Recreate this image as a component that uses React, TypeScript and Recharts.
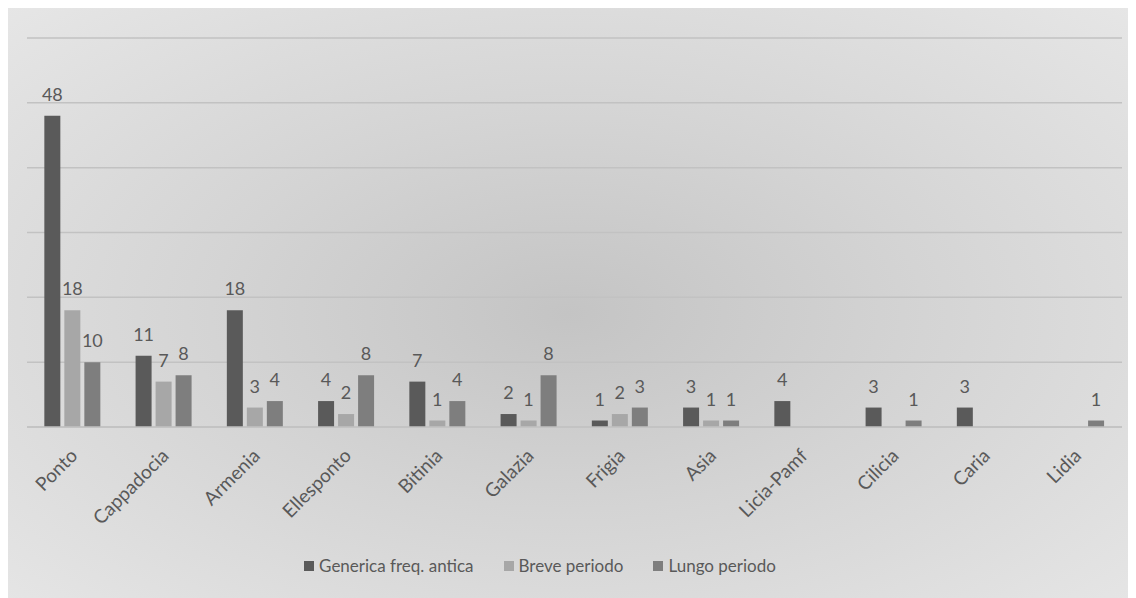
import { BarChart, Bar, XAxis, YAxis, CartesianGrid, LabelList } from "recharts";

const regions = ["Ponto", "Cappadocia", "Armenia", "Ellesponto", "Bitinia", "Galazia", "Frigia", "Asia", "Licia-Pamf", "Cilicia", "Caria", "Lidia"];
const generica = [48, 11, 18, 4, 7, 2, 1, 3, 4, 3, 3, null];
const breve = [18, 7, 3, 2, 1, 1, 2, 1, null, null, null, null];
const lungo = [10, 8, 4, 8, 4, 8, 3, 1, null, 1, null, 1];
const yTicks = [0, 10, 20, 30, 40, 50, 60];

const series = [
    { key: "generica", name: "Generica freq. antica", color: "#5a5a5a" },
    { key: "breve", name: "Breve periodo", color: "#a7a7a7" },
    { key: "lungo", name: "Lungo periodo", color: "#7e7e7e" },
];

const data = regions.map((name, i) => ({
    name,
    generica: generica[i],
    breve: breve[i],
    lungo: lungo[i],
}));

const font = "Lato, 'Open Sans', sans-serif";
const textColor = "#595959";

function RotatedTick(props: any) {
    const { x, y, payload } = props;
    return (
        <text
            x={x + 6}
            y={y + 22}
            transform={`rotate(-45, ${x + 6}, ${y + 22})`}
            textAnchor="end"
            fill={textColor}
            fontSize={19}
            fontFamily={font}
        >
            {payload.value}
        </text>
    );
}

const showValue = (v: any) => (v === null || v === undefined ? "" : v);

export default function App() {
    return (
        <div
            style={{
                position: "relative",
                marginTop: -2,
                marginLeft: -1,
                width: 1122,
                height: 592,
                background: "radial-gradient(ellipse farthest-corner at 50% 52%, #c4c4c4 0%, #d4d4d4 45%, #e6e6e6 100%)",
            }}
        >
            <BarChart
                width={1122}
                height={592}
                data={data}
                margin={{ top: 32, right: 7, left: 20, bottom: 61 }}
                barCategoryGap="19%"
                barGap={4}
            >
                <CartesianGrid vertical={false} stroke="#c2c2c2" strokeWidth={1.5} />
                <YAxis hide domain={[0, 60]} ticks={yTicks} />
                <XAxis
                    dataKey="name"
                    interval={0}
                    tickLine={false}
                    axisLine={{ stroke: "#c2c2c2", strokeWidth: 1.5 }}
                    tick={<RotatedTick />}
                    height={110}
                />
                {series.map((s) => (
                    <Bar key={s.key} dataKey={s.key} name={s.name} fill={s.color} isAnimationActive={false}>
                        <LabelList dataKey={s.key} position="top" offset={15} fill={textColor} fontSize={18} fontFamily={font} formatter={showValue} />
                    </Bar>
                ))}
            </BarChart>
            <div
                style={{
                    position: "absolute",
                    top: 549,
                    left: 0,
                    width: 1066,
                    display: "flex",
                    justifyContent: "center",
                    fontFamily: font,
                    fontSize: 17,
                    color: textColor,
                    gap: 30,
                }}
            >
                {series.map((s) => (
                    <div key={s.key} style={{ display: "flex", alignItems: "center" }}>
                        <span style={{ width: 10, height: 10, background: s.color, marginRight: 5, display: "inline-block" }} />
                        <span>{s.name}</span>
                    </div>
                ))}
            </div>
        </div>
    );
}
